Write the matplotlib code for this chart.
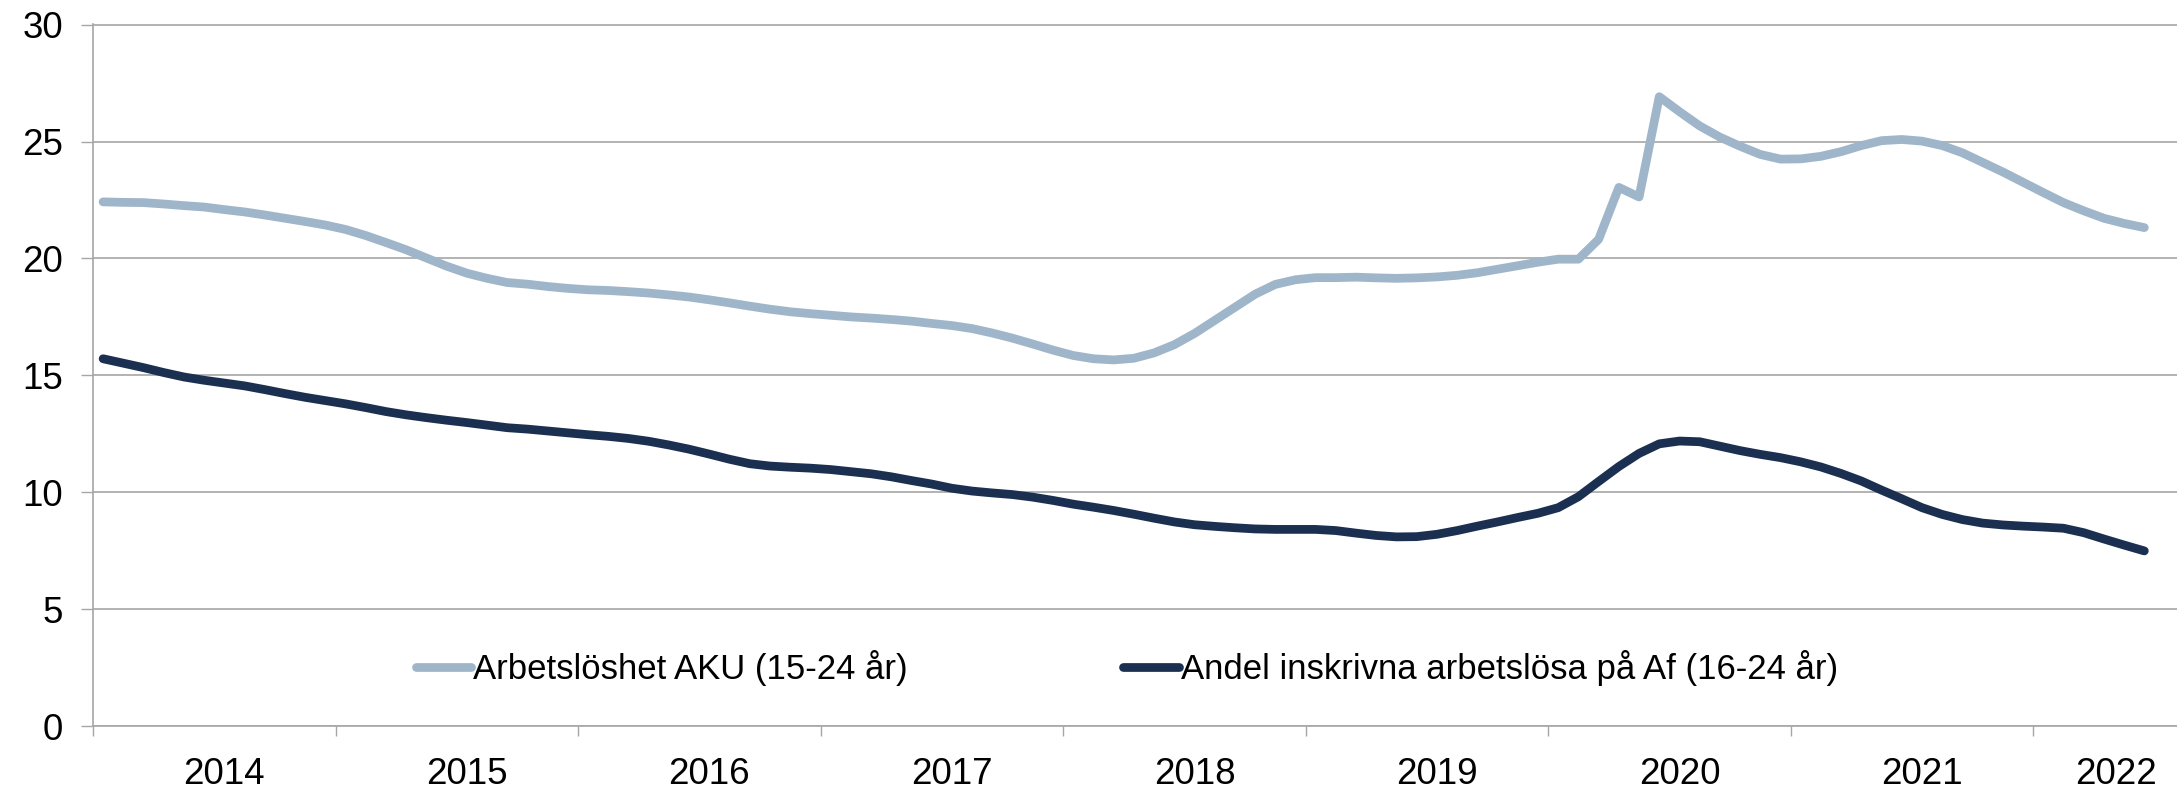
import matplotlib
matplotlib.use("Agg")
import matplotlib.pyplot as plt
import numpy as np

plt.rcParams['font.family'] = ['Liberation Sans', 'DejaVu Sans']

# ---- data (monthly, Jan 2014 - Jun 2022) ----
years = ["2014", "2015", "2016", "2017", "2018", "2019", "2020", "2021", "2022"]
year_label_pos = [6.0, 18.0, 30.0, 42.0, 54.0, 66.0, 78.0, 90.0, 99.6]

aku = [22.42, 22.40, 22.39, 22.33, 22.26, 22.20, 22.09, 21.99, 21.86, 21.72, 21.58, 21.43,
       21.24, 20.98, 20.68, 20.37, 20.02, 19.67, 19.37, 19.15, 18.97, 18.90, 18.80, 18.72,
       18.66, 18.63, 18.58, 18.52, 18.44, 18.35, 18.23, 18.10, 17.96, 17.83, 17.72, 17.64,
       17.57, 17.50, 17.45, 17.39, 17.32, 17.22, 17.13, 17.00, 16.81, 16.59, 16.34, 16.08,
       15.85, 15.71, 15.66, 15.73, 15.96, 16.31, 16.79, 17.35, 17.91, 18.47, 18.89, 19.09,
       19.18, 19.18, 19.20, 19.17, 19.15, 19.17, 19.21, 19.28, 19.39, 19.54, 19.69, 19.84,
       19.97, 19.97, 20.82, 23.04, 22.63, 26.92, 26.28, 25.67, 25.19, 24.80, 24.45, 24.25,
       24.26, 24.37, 24.57, 24.83, 25.04, 25.09, 25.02, 24.83, 24.52, 24.11, 23.70, 23.26,
       22.82, 22.39, 22.04, 21.72, 21.50, 21.32]

af = [15.71, 15.52, 15.33, 15.12, 14.93, 14.79, 14.67, 14.55, 14.39, 14.22, 14.06, 13.92,
      13.78, 13.62, 13.45, 13.31, 13.19, 13.08, 12.98, 12.87, 12.76, 12.70, 12.62, 12.54,
      12.46, 12.39, 12.30, 12.18, 12.02, 11.84, 11.63, 11.41, 11.22, 11.12, 11.07, 11.03,
      10.97, 10.88, 10.79, 10.66, 10.50, 10.35, 10.17, 10.05, 9.97, 9.90, 9.79, 9.65,
      9.49, 9.36, 9.22, 9.06, 8.89, 8.73, 8.61, 8.54, 8.48, 8.43, 8.41, 8.41,
      8.41, 8.36, 8.25, 8.15, 8.09, 8.10, 8.20, 8.36, 8.55, 8.73, 8.92, 9.10,
      9.34, 9.81, 10.46, 11.10, 11.66, 12.07, 12.19, 12.16, 11.97, 11.78, 11.62, 11.48,
      11.30, 11.08, 10.80, 10.48, 10.09, 9.72, 9.34, 9.05, 8.83, 8.68, 8.60, 8.55,
      8.51, 8.46, 8.27, 8.00, 7.74, 7.49]

series_names = ["Arbetslöshet AKU (15-24 år)", "Andel inskrivna arbetslösa på Af (16-24 år)"]

LIGHT = "#9fb6ca"
DARK = "#1b3051"
GRID = "#a6a6a6"

W, H = 2177, 789
fig = plt.figure(figsize=(W / 100, H / 100), dpi=100)
left_px, right_px, top_px, bottom_px = 93, 2177, 24, 726
ax = fig.add_axes([left_px / W, 1 - bottom_px / H, (right_px - left_px) / W, (bottom_px - top_px) / H])

x = np.arange(len(aku))
ax.plot(x, aku, color=LIGHT, lw=6.3, solid_capstyle='round', solid_joinstyle='round',
        label=series_names[0], zorder=3)
ax.plot(x, af, color=DARK, lw=6.3, solid_capstyle='round', solid_joinstyle='round',
        label=series_names[1], zorder=3)

px_per_month = 20.21
ax.set_xlim(-0.5, -0.5 + (right_px - left_px) / px_per_month)
ax.set_ylim(0, 30.03)

# y axis
ax.set_yticks(range(0, 31, 5))
ax.set_yticklabels([str(v) for v in range(0, 31, 5)])
ax.yaxis.grid(True, color=GRID, lw=1.2)
ax.set_axisbelow(True)
ax.tick_params(axis='y', direction='out', length=8.6, width=1.0, color=GRID,
               labelsize=26.5, pad=13, labelcolor='black')

# x axis: ticks at year boundaries, labels at year centres
boundaries = [-0.5] + [12 * k - 0.5 for k in range(1, 9)]
ax.set_xticks(boundaries)
ax.set_xticklabels([''] * len(boundaries))
ax.tick_params(axis='x', which='major', direction='out', length=7.5, width=1.0, color=GRID)
ax.set_xticks(year_label_pos, minor=True)
ax.set_xticklabels(years, minor=True)
ax.tick_params(axis='x', which='minor', length=0, labelsize=26.5, pad=22, labelcolor='black')

for s in ['top', 'right']:
    ax.spines[s].set_visible(False)
for s in ['left', 'bottom']:
    ax.spines[s].set_color(GRID)
    ax.spines[s].set_linewidth(1.2)

leg = ax.legend(ncol=2, loc='center', bbox_to_anchor=(0.496, 0.083), frameon=False,
                fontsize=25, handlelength=1.6, handletextpad=0.06, columnspacing=6.2,
                borderpad=0, borderaxespad=0)

fig.savefig("out.png", dpi=100)
